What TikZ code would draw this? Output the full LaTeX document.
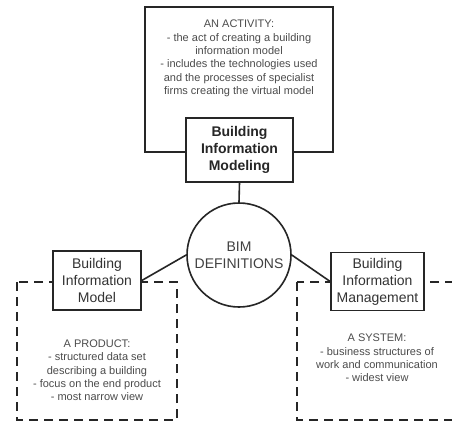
\documentclass[tikz,border=0pt]{standalone}
\usepackage{fontspec}
\setmainfont{Liberation Sans}
\begin{document}
\begin{tikzpicture}[x=1pt,y=-1pt,
  frame/.style={draw=black!85, line width=1.6pt},
  termbox/.style={frame, fill=white, align=center, inner sep=0pt,
    font=\fontsize{14}{17}\selectfont, text=black!80},
  dashbox/.style={draw=black!85, line width=1.8pt, dash pattern=on 9pt off 6pt},
  note/.style={align=center, inner sep=0pt, text=black!70,
    font=\fontsize{11}{13.3}\selectfont},
  link/.style={draw=black!85, line width=1.6pt}]
  \clip (0,0) rectangle (452,421);
  \fill[white] (0,0) rectangle (452,421);

  % activity frame with its description
  \node[frame, minimum width=188pt, minimum height=145pt, inner sep=0pt] (act) at (239,79.5) {};
  \node[note] (acttxt) at (239,58.5) {AN ACTIVITY:\\- the act of creating a building\\information model\\- includes the technologies used\\and the processes of specialist\\firms creating the virtual model};

  % dashed frames for product and system
  \draw[dashbox] (17,282) rectangle (177,420);
  \draw[dashbox] (297,282) rectangle (470,420);
  \node[note] (prodtxt) at (97,370.5) {A PRODUCT:\\- structured data set\\describing a building\\- focus on the end product\\- most narrow view};
  \node[note] (systxt) at (377,358) {A SYSTEM:\\- business structures of\\work and communication\\- widest view};

  % term boxes
  \node[termbox, font=\bfseries\fontsize{14}{17}\selectfont, text=black!85,
        minimum width=107pt, minimum height=64pt] (modeling) at (239.5,150) {Building\\Information\\Modeling};
  \node[termbox, minimum width=88pt, minimum height=59pt] (model) at (97,280.5) {Building\\Information\\Model};
  \node[termbox, minimum width=93pt, minimum height=58pt] (mgmt) at (377.5,281.5) {Building\\Information\\Management};

  % central circle
  \node[circle, frame, fill=white, minimum size=104pt, inner sep=0pt, align=center,
        font=\fontsize{14}{17}\selectfont, text=black!75] (bim) at (239,255) {BIM\\DEFINITIONS};

  % connectors
  \draw[link] (modeling.south) -- (bim.north);
  \draw[link] (bim.west) -- (model.east);
  \draw[link] (bim.east) -- (mgmt.west);
\end{tikzpicture}
\end{document}
